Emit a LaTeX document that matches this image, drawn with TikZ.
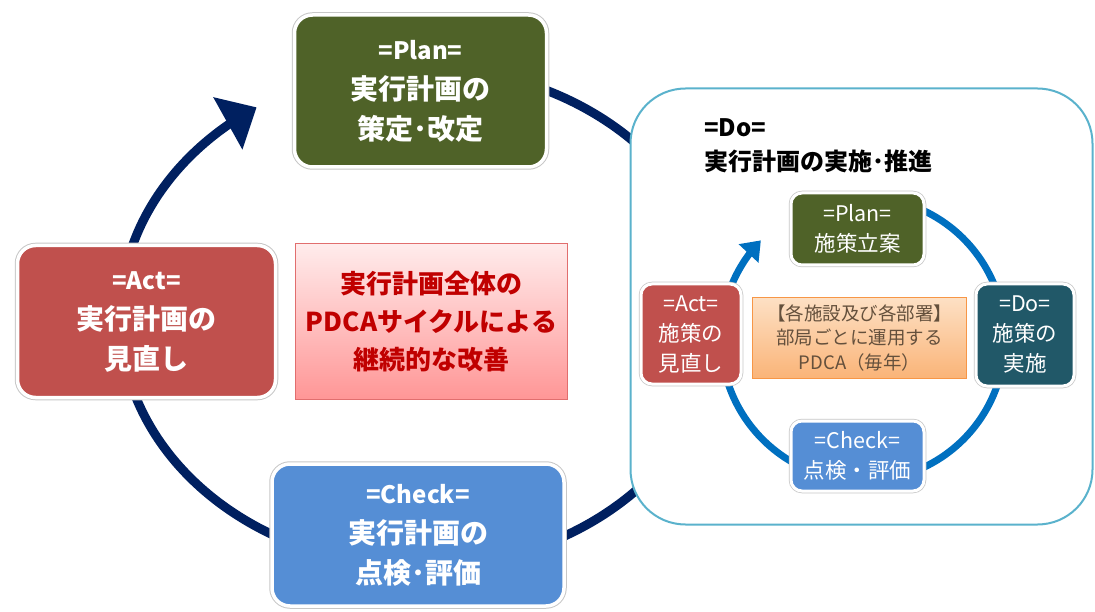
\documentclass[tikz,border=0pt]{standalone}
\usepackage{fontspec}
\setmainfont{Noto Sans CJK JP}
\usetikzlibrary{arrows.meta}
\definecolor{navy}{RGB}{0,32,96}
\definecolor{planG}{RGB}{79,98,40}
\definecolor{actR}{RGB}{192,80,77}
\definecolor{checkB}{RGB}{85,142,213}
\definecolor{doT}{RGB}{33,88,104}
\definecolor{doEdge}{RGB}{90,178,204}
\definecolor{innerB}{RGB}{0,112,192}
\definecolor{darkred}{RGB}{192,0,0}
\definecolor{pinkTop}{RGB}{255,236,236}
\definecolor{pinkBot}{RGB}{255,150,150}
\definecolor{pinkEdge}{RGB}{225,110,110}
\definecolor{orTop}{RGB}{253,224,196}
\definecolor{orBot}{RGB}{250,180,120}
\definecolor{orEdge}{RGB}{247,150,70}
\definecolor{orText}{RGB}{100,80,60}
\tikzset{
  bigbox/.style={rounded corners=18pt, draw=white, line width=3.5pt,
    preaction={draw=black!22, line width=5.5pt}, align=center, text=white,
    font=\bfseries\fontsize{28}{40}\selectfont, inner sep=0pt},
  smallbox/.style={rounded corners=11pt, draw=white, line width=3pt,
    preaction={draw=black!22, line width=4.5pt}, align=center, text=white,
    font=\fontsize{21.5}{30}\selectfont, inner sep=0pt},
  bigarc/.style={draw=navy, line width=9pt},
  smallarc/.style={draw=innerB, line width=7pt},
}
\begin{document}
\begin{tikzpicture}[x=1pt,y=1pt]
\useasboundingbox (0,0) rectangle (1095,-612);
% big cycle arc
\draw[bigarc, -{Triangle[width=58pt,length=33pt]}]
  plot[smooth, domain=110:-237, samples=150] ({420+300*cos(\x)},{-317+250*sin(\x)});
% Do outer box
\node[draw=doEdge, line width=2pt, fill=white, rounded corners=55pt,
  minimum width=462pt, minimum height=436pt] (do) at (861.5,-306.5) {};
\node[anchor=north west, align=left, font=\bfseries\fontsize{24}{34}\selectfont, inner sep=0pt]
  (dotitle) at (704,-118) {=Do=\\実行計画の実施･推進};
% inner cycle arc
\draw[smallarc, -{Triangle[width=26pt,length=18pt]}]
  plot[smooth, domain=100:-224, samples=120] ({863+142*cos(\x)},{-339+142*sin(\x)});
% big boxes
\node[bigbox, fill=planG, minimum width=252pt, minimum height=152pt] (plan) at (420.5,-91)
  {{\fontsize{24}{40}\selectfont =Plan=}\\実行計画の\\策定･改定};
\node[bigbox, fill=actR, minimum width=258pt, minimum height=152pt] (act) at (146.5,-321.5)
  {{\fontsize{24}{40}\selectfont =Act=}\\実行計画の\\見直し};
\node[bigbox, fill=checkB, minimum width=292pt, minimum height=142pt] (check) at (418,-535)
  {{\fontsize{24}{40}\selectfont =Check=}\\実行計画の\\点検･評価};
\node[draw=pinkEdge, line width=1pt, top color=pinkTop, bottom color=pinkBot,
  minimum width=272pt, minimum height=156pt, align=center, text=darkred,
  font=\bfseries\fontsize{26}{38}\selectfont, inner sep=0pt] (pdca) at (431.5,-321.5)
  {実行計画全体の\\PDCAサイクルによる\\継続的な改善};
% inner boxes
\node[smallbox, fill=planG, minimum width=133pt, minimum height=72pt] (iplan) at (857.5,-229)
  {=Plan=\\施策立案};
\node[smallbox, fill=actR, minimum width=100pt, minimum height=100pt] (iact) at (691,-334)
  {=Act=\\施策の\\見直し};
\node[smallbox, fill=doT, minimum width=98pt, minimum height=102pt] (ido) at (1025,-335)
  {=Do=\\施策の\\実施};
\node[smallbox, fill=checkB, minimum width=133pt, minimum height=70pt] (icheck) at (857.5,-456)
  {=Check=\\点検・評価};
\node[draw=orEdge, line width=1pt, top color=orTop, bottom color=orBot,
  minimum width=214pt, minimum height=80pt, align=center, text=orText,
  font=\fontsize{18.5}{24.5}\selectfont, inner sep=0pt] (orange) at (859.5,-338)
  {【各施設及び各部署】\\部局ごとに運用する\\PDCA（毎年）};
\end{tikzpicture}
\end{document}
